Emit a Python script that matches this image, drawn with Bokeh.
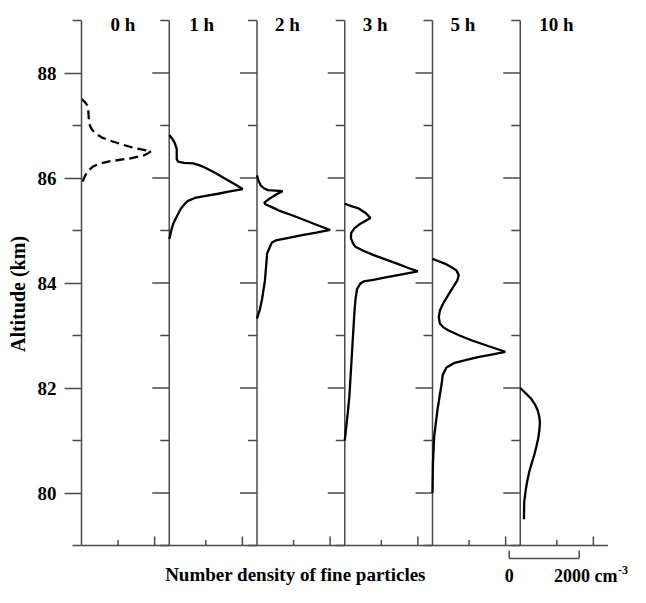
import numpy as np
from bokeh.plotting import figure
from bokeh.models import FixedTicker, Range1d
from bokeh.core.properties import value
from bokeh.embed import file_html
from bokeh.resources import INLINE

# ---------------- data ----------------
panel_labels = ["0 h", "1 h", "2 h", "3 h", "5 h", "10 h"]
panel_step = 2400          # cm^-3 between successive panel baselines

alt_0h = [87.51, 87.44, 87.37, 87.19, 87.04, 86.93, 86.85, 86.77, 86.70, 86.63, 86.57,
          86.51, 86.47, 86.43, 86.37, 86.32, 86.27, 86.22, 86.15, 86.07, 85.99, 85.88]
dens_0h = [0, 100, 175, 195, 205, 280, 380, 560, 830, 1150, 1450,
           1900, 1820, 1700, 1300, 790, 480, 320, 200, 120, 64, 0]

alt_1h = [86.82, 86.74, 86.66, 86.55, 86.45, 86.36, 86.31, 86.29, 86.28, 86.24, 86.20,
          86.10, 85.99, 85.89, 85.79, 85.74, 85.70, 85.66, 85.62, 85.56, 85.51, 85.42,
          85.32, 85.22, 85.13, 85.00, 84.88, 84.84]
dens_1h = [0, 90, 155, 205, 205, 205, 240, 400, 655, 830, 973,
           1250, 1519, 1770, 2010, 1620, 1336, 1000, 700, 500, 427, 320,
           245, 170, 109, 55, 18, 0]

alt_2h = [86.05, 85.95, 85.86, 85.80, 85.77, 85.76, 85.75, 85.70, 85.64, 85.58, 85.53,
          85.50, 85.44, 85.38, 85.29, 85.19, 85.10, 85.01, 84.96, 84.91, 84.85, 84.81,
          84.77, 84.72, 84.56, 84.43, 84.05, 83.70, 83.50, 83.32]
dens_2h = [0, 40, 100, 200, 300, 500, 700, 560, 418, 290, 200,
           230, 420, 600, 960, 1327, 1660, 2000, 1620, 1236, 800, 510,
           409, 373, 275, 262, 218, 140, 80, 0]

alt_3h = [85.51, 85.46, 85.42, 85.33, 85.24, 85.18, 85.13, 85.04, 84.95, 84.85, 84.75,
          84.69, 84.61, 84.53, 84.45, 84.37, 84.29, 84.22, 84.17, 84.11, 84.06, 84.03,
          83.99, 83.89, 83.70, 83.45, 82.81, 82.11, 81.83, 81.54, 81.25, 81.00]
dens_3h = [0, 200, 382, 580, 700, 560, 428, 260, 175, 170, 230,
           292, 520, 791, 1110, 1429, 1720, 2000, 1600, 1156, 780, 518,
           427, 338, 295, 265, 210, 150, 125, 85, 40, 0]

alt_5h = [84.46, 84.42, 84.37, 84.30, 84.24, 84.15, 84.05, 83.92, 83.76, 83.61, 83.47,
          83.35, 83.23, 83.16, 83.10, 83.00, 82.91, 82.80, 82.69, 82.64, 82.59, 82.53,
          82.48, 82.39, 82.25, 82.08, 81.58, 81.07, 80.56, 80.00]
dens_5h = [0, 150, 336, 520, 655, 718, 680, 564, 420, 291, 200,
           173, 200, 290, 427, 740, 1064, 1520, 1990, 1650, 1246, 900,
           609, 382, 280, 250, 135, 45, 12, 0]

alt_10h = [82.00, 81.90, 81.80, 81.69, 81.58, 81.46, 81.35, 81.20, 81.04, 80.88, 80.72,
           80.56, 80.40, 80.24, 80.08, 79.83, 79.50]
dens_10h = [0, 150, 292, 400, 474, 520, 537, 525, 491, 440, 382,
            310, 245, 195, 155, 109, 100]

y_major_ticks = [80, 82, 84, 86, 88]
y_minor_ticks = [79, 81, 83, 85, 87, 89]
y_bounds = (79, 89)
x_minor_in_panel = [1000]
x_major_in_panel = [2000]
scale_bar_label = ["0", "2000 cm"]
scale_bar_exp = ["-3"]
x_title = "Number density of fine particles"
y_title = "Altitude (km)"

# ---------------- layout ----------------
FONT = "Liberation Serif"
AX = "#4a4a4a"
W, H = 630, 587
LEFT = 81                   # canvas x of the first panel axis
TOP89 = 20                  # canvas y of the 89 km tick
PX_X = 87.75 / panel_step   # px per cm^-3
PX_Y = 52.5                 # px per km
x_end = (W - LEFT) / PX_X
y_top = y_bounds[1] + TOP89 / PX_Y
y_bot = y_top - H / PX_Y

def dx(px):   # horizontal pixel length -> data
    return px / PX_X

def dy(px):   # vertical pixel length -> data
    return px / PX_Y

def cx(canvas_px):  # canvas x -> data x
    return (canvas_px - LEFT) / PX_X

def cy(canvas_py):  # canvas y -> data y
    return y_top - canvas_py / PX_Y

p = figure(width=W, height=H, x_range=Range1d(0, x_end), y_range=Range1d(y_bot, y_top),
           output_backend="svg", toolbar_location=None, x_axis_location=None,
           min_border_left=LEFT, min_border_right=0, min_border_top=0, min_border_bottom=0)
p.title_location = None
p.outline_line_color = None
p.xgrid.visible = False
p.ygrid.visible = False
p.background_fill_color = "white"

ya = p.yaxis[0]
ya.ticker = FixedTicker(ticks=y_major_ticks, minor_ticks=y_minor_ticks)
ya.bounds = y_bounds
ya.axis_line_color = AX
ya.axis_line_width = 1.5
ya.major_tick_line_color = AX
ya.major_tick_line_width = 1.5
ya.minor_tick_line_color = AX
ya.minor_tick_line_width = 1.5
ya.major_tick_out = 17
ya.major_tick_in = 0
ya.minor_tick_out = 9
ya.minor_tick_in = 0
ya.major_label_text_font = FONT
ya.major_label_text_font_style = "bold"
ya.major_label_text_font_size = "19px"
ya.major_label_text_color = "black"
ya.major_label_standoff = 8
ya.axis_label = y_title
ya.axis_label_text_font = FONT
ya.axis_label_text_font_style = "bold"
ya.axis_label_text_font_size = "20px"
ya.axis_label_text_color = "black"
ya.axis_label_standoff = 6

n_panels = len(panel_labels)
offsets = [i * panel_step for i in range(n_panels)]

# panel vertical axes (panels 1..n; panel 0 uses the Bokeh axis)
vx = offsets[1:]
p.segment(x0=vx, y0=[y_bounds[0]] * len(vx), x1=vx, y1=[y_bounds[1]] * len(vx),
          line_color=AX, line_width=1.5)
tx0, tx1, ty = [], [], []
for off in offsets[1:]:
    for t in y_major_ticks:
        tx0.append(off - dx(17)); tx1.append(off); ty.append(t)
    for t in y_minor_ticks:
        tx0.append(off - dx(9)); tx1.append(off); ty.append(t)
p.segment(x0=tx0, y0=ty, x1=tx1, y1=ty, line_color=AX, line_width=1.5)

# bottom axis
x_axis_end = offsets[-1] + panel_step
p.segment(x0=[0], y0=[y_bounds[0]], x1=[x_axis_end], y1=[y_bounds[0]],
          line_color=AX, line_width=1.5)
bx, by0, by1 = [], [], []
for off in offsets:
    for t in x_minor_in_panel:
        bx.append(off + t); by0.append(y_bounds[0]); by1.append(y_bounds[0] + dy(5.5))
    for t in x_major_in_panel:
        bx.append(off + t); by0.append(y_bounds[0]); by1.append(y_bounds[0] + dy(9))
p.segment(x0=bx, y0=by0, x1=bx, y1=by1, line_color=AX, line_width=1.5)

# profiles
series = [(alt_0h, dens_0h), (alt_1h, dens_1h), (alt_2h, dens_2h),
          (alt_3h, dens_3h), (alt_5h, dens_5h), (alt_10h, dens_10h)]
for i, (alt, dens) in enumerate(series):
    xs = np.asarray(dens, dtype=float) + offsets[i]
    kw = dict(line_color="black", line_width=2.3)
    if i == 0:
        kw["line_dash"] = "9 5"
    p.line(xs, alt, **kw)

# panel titles
title_px = [29, 20, 18, 18, 18, 19]   # pixel offset of title from each panel axis
title_x = [offsets[i] + dx(title_px[i]) for i in range(n_panels)]
p.text(x=title_x, y=[cy(24)] * n_panels, text=panel_labels,
       text_font=value(FONT), text_font_style="bold", text_font_size="19px",
       text_color="black", text_align="left", text_baseline="alphabetic")

# x-axis title
p.text(x=[cx(295)], y=[cy(574)], text=[x_title],
       text_font=value(FONT), text_font_style="bold", text_font_size="19px",
       text_color="black", text_align="center", text_baseline="alphabetic")

# scale bar
sb0, sb1 = cx(508.7), cx(578.7)
sby = cy(558)
p.segment(x0=[sb0, sb0, sb1], y0=[sby, sby, sby], x1=[sb1, sb0, sb1],
          y1=[sby, sby + dy(8), sby + dy(8)], line_color=AX, line_width=1.5)
p.text(x=[sb0], y=[cy(575)], text=[scale_bar_label[0]],
       text_font=value(FONT), text_font_style="bold", text_font_size="18px",
       text_color="black", text_align="center", text_baseline="alphabetic")
p.text(x=[cx(617)], y=[cy(575)], text=[scale_bar_label[1]],
       text_font=value(FONT), text_font_style="bold", text_font_size="18px",
       text_color="black", text_align="right", text_baseline="alphabetic")
p.text(x=[cx(617.5)], y=[cy(569)], text=scale_bar_exp,
       text_font=value(FONT), text_font_style="bold", text_font_size="12px",
       text_color="black", text_align="left", text_baseline="alphabetic")

open("out.html", "w").write(file_html(p, INLINE))
